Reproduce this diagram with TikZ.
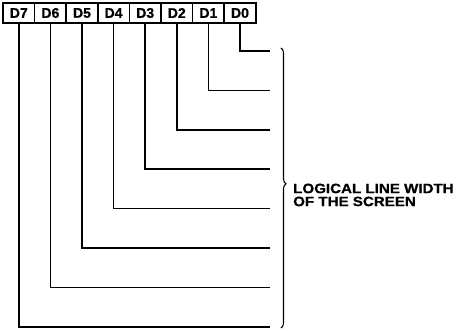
\documentclass[tikz,border=0pt]{standalone}
\usepackage{fontspec}
\usetikzlibrary{decorations.pathreplacing}
\newfontfamily\labfont[FakeStretch=1.12,FakeBold=0.8]{Liberation Sans}
\newfontfamily\bitfont[FakeBold=0.8]{Liberation Sans}
\begin{document}
\begin{tikzpicture}[x=1pt,y=-1pt,
  bitbox/.style={draw, line width=1.6pt, minimum width=31.6pt, minimum height=20pt, inner sep=0pt,
    font=\bitfont\bfseries\fontsize{14}{14}\selectfont},
  wire/.style={line width=1.6pt},
  lbl/.style={font=\labfont\bfseries\fontsize{13.5}{13}\selectfont, align=left, inner sep=0pt, anchor=north west}]
\useasboundingbox (0,0) rectangle (459,331);
\foreach \i/\j in {7/0,6/1,5/2,4/3,3/4,2/5,1/6,0/7}{
  \node[bitbox] (d\i) at ({18.8+31.6*\j},13) {\raisebox{-1pt}{D\i}};
  \coordinate (e\i) at (270,{51+39.4*\i});
  \draw[wire] (d\i.south) |- (e\i);
}
\coordinate (bt) at (281,48);
\coordinate (bb) at (281,328);
\draw[line width=1.1pt, decorate, decoration={brace, amplitude=5pt, aspect=0.485}] (bt) -- (bb);
\node[lbl] (txt) at (293,183.5) {LOGICAL LINE WIDTH\\OF THE SCREEN};
\end{tikzpicture}
\end{document}
